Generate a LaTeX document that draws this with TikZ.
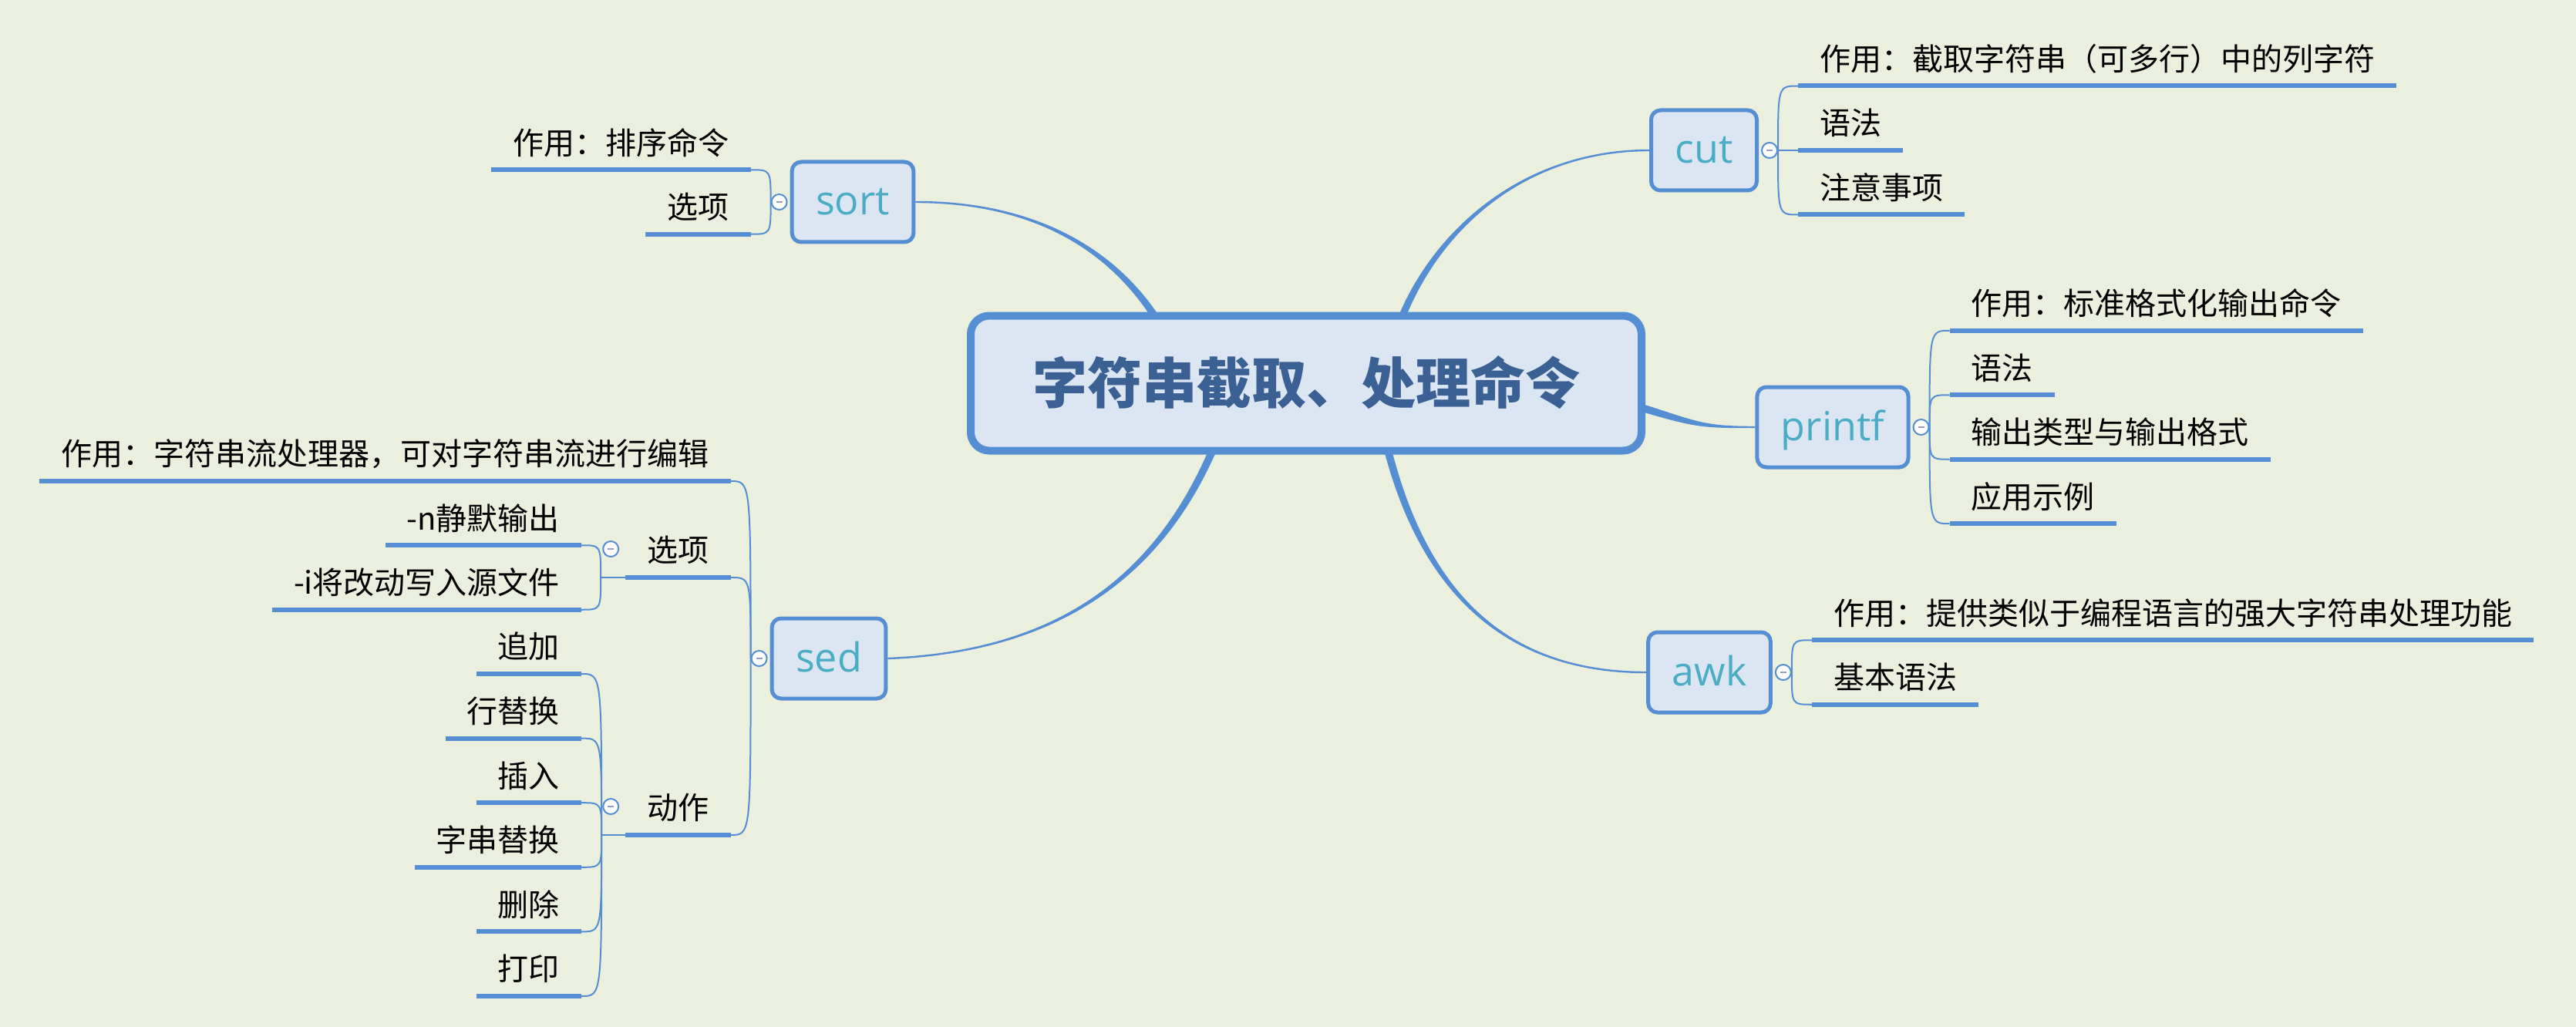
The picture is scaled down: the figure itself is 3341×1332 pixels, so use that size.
\documentclass[tikz,border=0pt]{standalone}
\usepackage{fontspec}
\setmainfont{Noto Sans CJK SC}
\newfontfamily\topicfont{Open Sans}
\usetikzlibrary{positioning,calc}
\definecolor{paper}{RGB}{235,240,222}
\definecolor{wire}{RGB}{86,142,212}
\definecolor{boxfill}{RGB}{220,230,242}
\definecolor{topictext}{RGB}{75,172,198}
\definecolor{roottext}{RGB}{58,96,148}
\definecolor{foldmark}{RGB}{150,155,200}
\pgfdeclarelayer{paperlayer}
\pgfdeclarelayer{wirelayer}
\pgfsetlayers{paperlayer,wirelayer,main}

\begin{document}
\begin{tikzpicture}[x=1pt, y=-1pt,
root/.style={draw=wire, line width=10pt, fill=boxfill, rounded corners=24pt, minimum width=870pt, minimum height=175pt, text height=58pt, text depth=6pt, text=roottext, font=\fontsize{71}{80}\selectfont\bfseries},
topic/.style={draw=wire, line width=5pt, fill=boxfill, rounded corners=12pt, minimum height=104pt, inner xsep=31pt, text height=40pt, text depth=6pt, text=topictext, font=\topicfont\fontsize{52}{60}\selectfont},
fold/.style={circle, draw=wire, line width=2pt, fill=white, minimum size=20pt, inner sep=0pt, path picture={\draw[foldmark, line width=2.5pt] ([xshift=-4pt]path picture bounding box.center) -- ([xshift=4pt]path picture bounding box.center);}},
leaf/.style={inner xsep=28pt, inner ysep=10pt, text depth=10pt, font=\fontsize{40}{48}\selectfont},
leafr/.style={leaf, anchor=south west},
leafl/.style={leaf, anchor=south east},
uline/.style={wire, line width=6pt},
branch/.style={fill=wire},
twig/.style={wire, line width=2pt}
]
\begin{pgfonlayer}{paperlayer}
\fill[paper] (0,0) rectangle (3341,1332);
\end{pgfonlayer}

\node[root] (root) at (1694,497) {字符串截取、处理命令};
\node[topic] (sort) at (1106,262) {sort};
\node[topic] (cut) at (2210,195) {cut};
\node[topic] (printf) at (2377,554) {printf};
\node[topic] (awk) at (2217,872) {awk};
\node[topic] (sed) at (1075,854) {sed};
\node[fold, left=3pt of sort] (sort-f) {};
\node[fold, right=3pt of cut] (cut-f) {};
\node[fold, right=3pt of printf] (printf-f) {};
\node[fold, right=3pt of awk] (awk-f) {};
\node[fold, left=3pt of sed] (sed-f) {};

\coordinate (root-sort) at ($(root.center)+(-164,-27)$);
\coordinate (root-cut) at ($(root.center)+(106,-27)$);
\coordinate (root-printf) at ($(root.center)+(406,23)$);
\coordinate (root-awk) at ($(root.center)+(96,43)$);
\coordinate (root-sed) at ($(root.center)+(-104,43)$);
\begin{pgfonlayer}{wirelayer}
\fill[branch] ($(root-sort)+(4.6,-2)$) .. controls +(-60,-140) and +(162,0) .. ($(sort.east)+(0,-1.2)$)
  -- ($(sort.east)+(0,1.2)$) .. controls +(162,0) and +(-60,-140) .. ($(root-sort)+(-4.6,2)$) -- cycle;
\fill[branch] ($(root-cut)+(4.9,1)$) .. controls +(30,-140) and +(-186,0) .. ($(cut.west)+(0,1.2)$)
  -- ($(cut.west)+(0,-1.2)$) .. controls +(-186,0) and +(30,-140) .. ($(root-cut)+(-4.9,-1)$) -- cycle;
\fill[branch] ($(root-printf)+(-1.4,4.8)$) .. controls +(100,30) and +(-76,0) .. ($(printf.west)+(0,1.2)$)
  -- ($(printf.west)+(0,-1.2)$) .. controls +(-76,0) and +(100,30) .. ($(root-printf)+(1.4,-4.8)$) -- cycle;
\fill[branch] ($(root-awk)+(4.9,-1)$) .. controls +(40,200) and +(-206,0) .. ($(awk.west)+(0,-1.2)$)
  -- ($(awk.west)+(0,1.2)$) .. controls +(-206,0) and +(40,200) .. ($(root-awk)+(-4.9,1)$) -- cycle;
\fill[branch] ($(root-sed)+(4.7,1.75)$) .. controls +(-60,170) and +(260,-10) .. ($(sed.east)+(0,1.2)$)
  -- ($(sed.east)+(0,-1.2)$) .. controls +(260,-10) and +(-60,170) .. ($(root-sed)+(-4.7,-1.75)$) -- cycle;
\end{pgfonlayer}

\coordinate (sort-j) at (sort-f.west);
\coordinate (sed-j) at (sed-f.west);
\coordinate (cut-j) at (cut-f.east);
\coordinate (printf-j) at (printf-f.east);
\coordinate (awk-j) at (awk-f.east);

\foreach \lbl [count=\i] in {作用：排序命令, 选项}
  \node[leafl] (sort-\i) at ($(sort-j)+(-26,{(\i-1.5)*83.5})$) {\lbl};
\foreach \lbl [count=\i] in {作用：截取字符串（可多行）中的列字符, 语法, 注意事项}
  \node[leafr] (cut-\i) at ($(cut-j)+(26,{(\i-2)*83.5})$) {\lbl};
\foreach \lbl [count=\i] in {作用：标准格式化输出命令, 语法, 输出类型与输出格式, 应用示例}
  \node[leafr] (printf-\i) at ($(printf-j)+(26,{(\i-2.5)*83.5})$) {\lbl};
\foreach \lbl [count=\i] in {作用：提供类似于编程语言的强大字符串处理功能, 基本语法}
  \node[leafr] (awk-\i) at ($(awk-j)+(26,{(\i-1.5)*83.5})$) {\lbl};
\foreach \lbl/\dy [count=\i] in {作用：字符串流处理器，可对字符串流进行编辑/-230, 选项/-105, 动作/229}
  \node[leafl] (sed-\i) at ($(sed-j)+(-26,\dy)$) {\lbl};

\coordinate (opt-j) at ($(sed-2.south west)+(-32,0)$);
\coordinate (act-j) at ($(sed-3.south west)+(-31,0)$);
\node[fold] (opt-f) at ($(opt-j)+(13,-37)$) {};
\node[fold] (act-f) at ($(act-j)+(12,-37)$) {};
\foreach \lbl [count=\i] in {-n静默输出, -i将改动写入源文件}
  \node[leafl] (opt-\i) at ($(opt-j)+(-25,{(\i-1.5)*83.5})$) {\lbl};
\foreach \lbl [count=\i] in {追加, 行替换, 插入, 字串替换, 删除, 打印}
  \node[leafl] (act-\i) at ($(act-j)+(-26,{(\i-3.5)*83.6})$) {\lbl};

\foreach \p/\n in {sort/2, sed/3, opt/2, act/6}
  \foreach \i in {1,...,\n}
  {
    \draw[uline] (\p-\i.south west) -- (\p-\i.south east);
    \draw[twig] (\p-j) .. controls (\p-j |- \p-\i.south east) .. (\p-\i.south east);
  }
\foreach \p/\n in {cut/3, printf/4, awk/2}
  \foreach \i in {1,...,\n}
  {
    \draw[uline] (\p-\i.south west) -- (\p-\i.south east);
    \draw[twig] (\p-j) .. controls (\p-j |- \p-\i.south west) .. (\p-\i.south west);
  }
\draw[twig] (opt-j) -- (sed-2.south west);
\draw[twig] (act-j) -- (sed-3.south west);
\end{tikzpicture}
\end{document}
